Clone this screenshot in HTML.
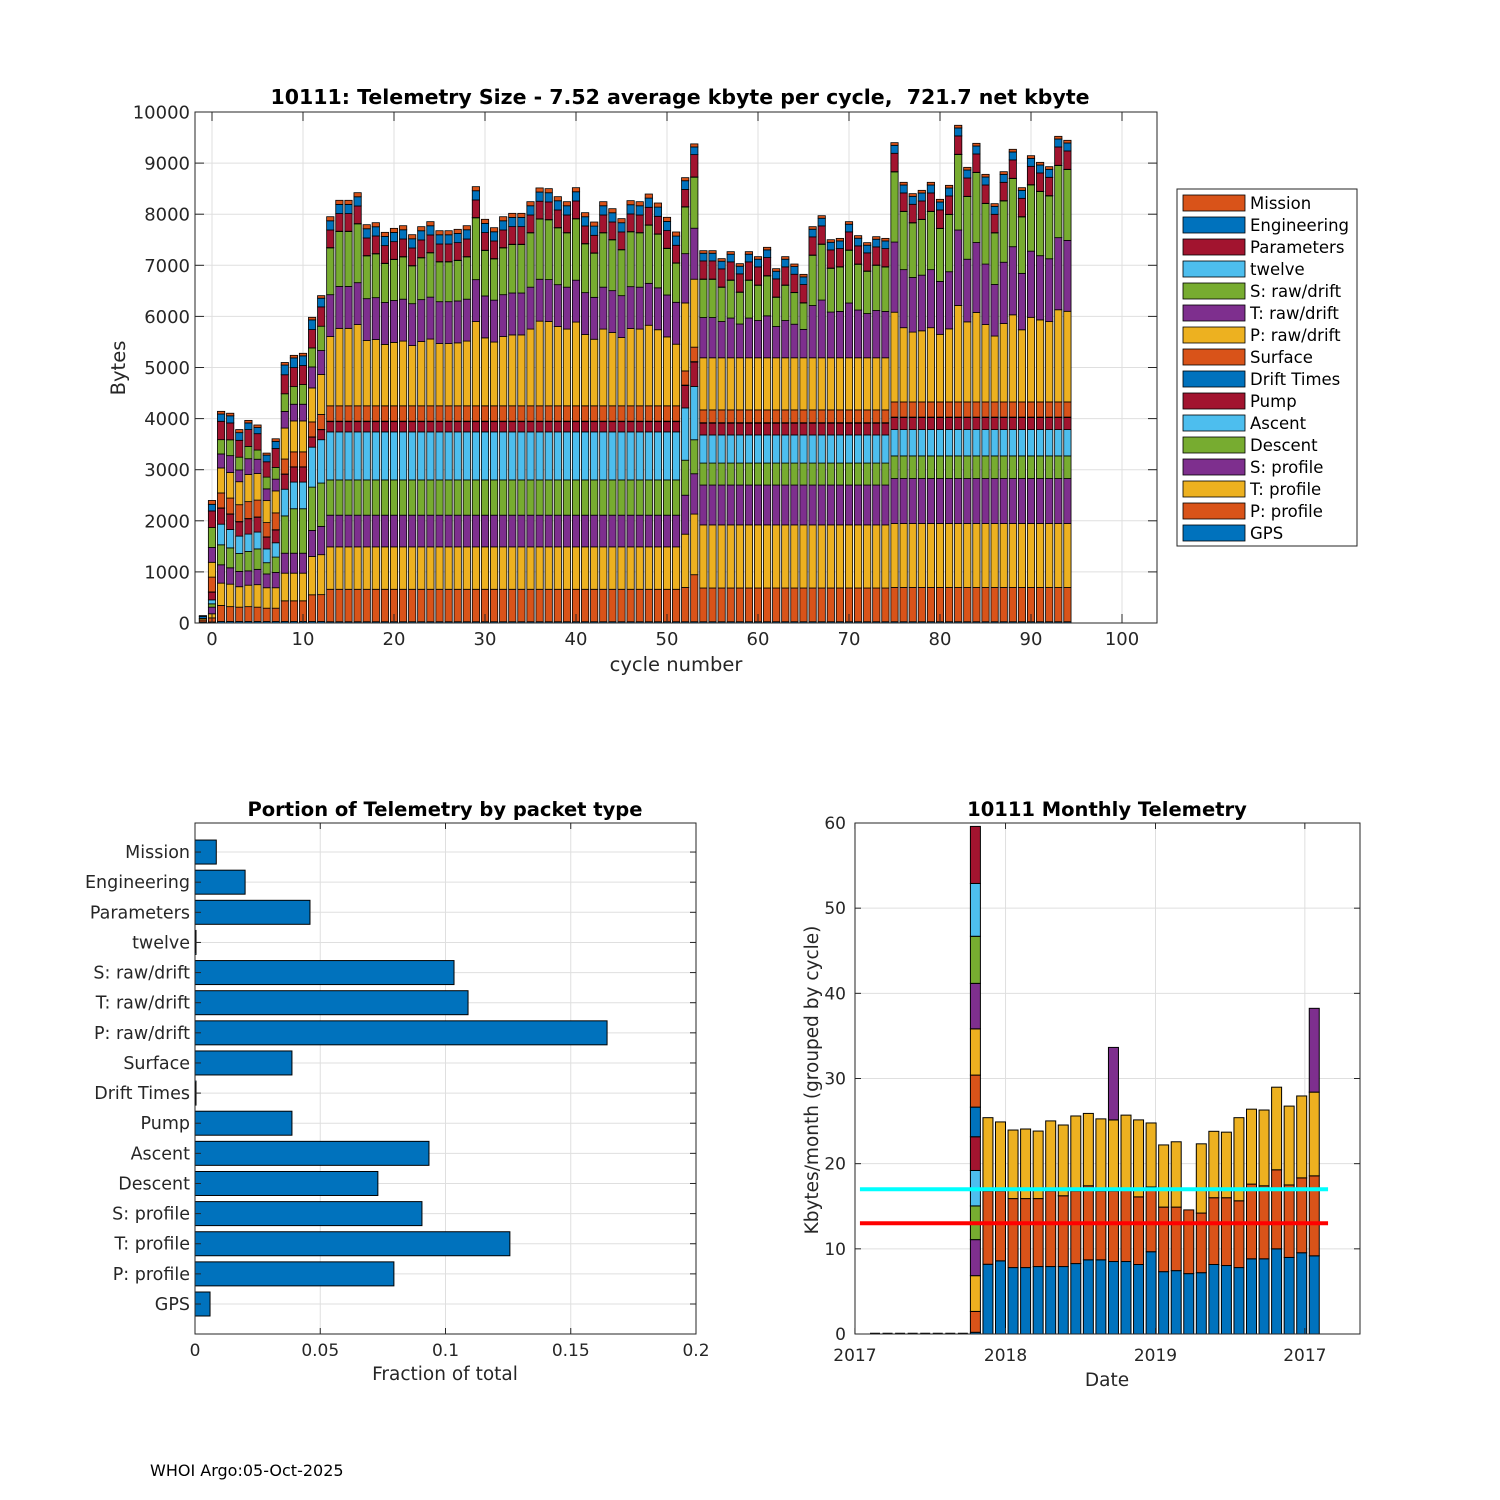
<!DOCTYPE html>
<html><head><meta charset="utf-8">
<style>
html,body{margin:0;padding:0;background:#fff;}
svg{display:block;font-family:"DejaVu Sans","Liberation Sans",sans-serif;}
</style></head>
<body>
<svg id="fig" width="1500" height="1500" viewBox="0 0 1500 1500" xmlns="http://www.w3.org/2000/svg">
<rect x="0" y="0" width="1500" height="1500" fill="#fff"/>
<g id="top"></g>
<g id="bl"></g>
<g id="br"></g>
<text x="150" y="1476" font-size="16" fill="#000">WHOI Argo:05-Oct-2025</text>
</svg>
<script>
// ===== Top chart data (cycles -1..94) =====
const cycles = [-1,0,1,2,3,4,5,6,7,8,9,10,11,12,13,14,15,16,17,18,19,20,21,22,23,24,25,26,27,28,29,30,31,32,33,34,35,36,37,38,39,40,41,42,43,44,45,46,47,48,49,50,51,52,53,54,55,56,57,58,59,60,61,62,63,64,65,66,67,68,69,70,71,72,73,74,75,76,77,78,79,80,81,82,83,84,85,86,87,88,89,90,91,92,93,94];
const gps = [20,20,
30,30,30,30,30,30,30,30,30,30,30,30,
25,25,25,25,25,25,25,25,25,25,
25,25,25,25,25,25,25,25,25,25,
25,25,25,25,25,25,25,25,25,25,
25,25,25,25,25,25,25,25,25,25,
25,25,25,25,25,25,25,25,25,25,
25,25,25,25,25,25,25,25,25,25,
25,25,25,25,25,25,25,25,25,25,
25,25,25,25,25,25,25,25,25,25,
25,25];
const pProfile = [40,80,313,290,280,290,280,260,260,404,404,404,522,525,
635,635,635,635,635,635,635,635,635,635,635,635,635,635,635,635,635,635,635,635,635,635,635,635,635,635,635,635,635,635,635,635,635,635,635,635,635,635,635,
670,920,
660,660,660,660,660,660,660,660,660,660,660,660,660,660,660,660,660,660,660,660,660,
670,670,670,670,670,670,670,670,670,670,670,670,670,670,670,670,670,670,670,670];
const tProfile = [30,80,437,440,400,420,440,400,400,541,541,541,750,782,
830,830,830,830,830,830,830,830,830,830,830,830,830,830,830,830,830,830,830,830,830,830,830,830,830,830,830,830,830,830,830,830,830,830,830,830,830,830,830,
1043,1187,
1235,1235,1235,1235,1235,1235,1235,1235,1235,1235,1235,1235,1235,1235,1235,1235,1235,1235,1235,1235,1235,
1252,1252,1252,1252,1252,1252,1252,1252,1252,1252,1252,1252,1252,1252,1252,1252,1252,1252,1252,1252];
const sProfile = [0,130,359,320,300,280,300,270,300,391,391,391,509,554,
620,620,620,620,620,620,620,620,620,620,620,620,620,620,620,620,620,620,620,620,620,620,620,620,620,620,620,620,620,620,620,620,620,620,620,620,620,620,620,
763,789,
780,780,780,780,780,780,780,780,780,780,780,780,780,780,780,780,780,780,780,780,780,
880,880,880,880,880,880,880,880,880,880,880,880,880,880,880,880,880,880,880,880];
const descent = [0,65,391,390,350,380,400,220,300,730,870,870,848,848,
690,690,690,690,690,690,690,690,690,690,690,690,690,690,690,690,690,690,690,690,690,690,690,690,690,690,690,690,690,690,690,690,690,690,690,690,690,690,690,
685,665,
430,430,430,430,430,430,430,430,430,430,430,430,430,430,430,430,430,430,430,430,430,
443,443,443,443,443,443,443,443,443,443,443,443,443,443,443,443,443,443,443,443];
const ascent = [0,78,404,360,340,340,330,270,280,522,522,522,782,848,
940,940,940,940,940,940,940,940,940,940,940,940,940,940,940,940,940,940,940,940,940,940,940,940,940,940,940,940,940,940,940,940,940,940,940,940,940,940,940,
1023,1043,
550,550,550,550,550,550,550,550,550,550,550,550,550,550,550,550,550,550,550,550,550,
515,515,515,515,515,515,515,515,515,515,515,515,515,515,515,515,515,515,515,515];
const pump = [0,150,313,300,280,300,290,230,250,293,293,293,196,196,
200,200,200,200,200,200,200,200,200,200,200,200,200,200,200,200,200,200,200,200,200,200,200,200,200,200,200,200,200,200,200,200,200,200,200,200,200,200,200,
437,476,
230,230,230,230,230,230,230,230,230,230,230,230,230,230,230,230,230,230,230,230,230,
235,235,235,235,235,235,235,235,235,235,235,235,235,235,235,235,235,235,235,235];
const driftTimes = [0,5,5,5,5,5,5,5,5,5,5,5,5,5,
10,10,10,10,10,10,10,10,10,10,10,10,10,10,10,10,10,10,10,10,10,10,10,10,10,10,10,10,10,10,10,10,10,10,10,10,10,10,10,
10,10,
10,10,10,10,10,10,10,10,10,10,10,10,10,10,10,10,10,10,10,10,10,
10,10,10,10,10,10,10,10,10,10,10,10,10,10,10,10,10,10,10,10];
const surface = [0,290,293,310,330,330,330,280,330,293,293,293,293,293,
300,300,300,300,300,300,300,300,300,300,300,300,300,300,300,300,300,300,300,300,300,300,300,300,300,300,300,300,300,300,300,300,300,300,300,300,300,300,300,
277,283,
250,250,250,250,250,250,250,250,250,250,250,250,250,250,250,250,250,250,250,250,250,
296,296,296,296,296,296,296,296,296,296,296,296,296,296,296,296,296,296,296,296];
const pRaw = [0,290,489,500,450,530,520,430,430,606,606,606,665,782,
1355,1516,1516,1590,1277,1297,1202,1241,1267,1179,1258,1307,1218,1218,1232,1267,1649,1330,1248,1355,1388,1388,1502,1657,1650,1551,1502,1639,1395,1303,1502,1434,1336,1512,1502,1577,1489,1349,1206,
1330,1330,
1020,1020,1020,1020,1020,1020,1020,1020,1020,1020,1020,1020,1020,1020,1020,1020,1020,1020,1020,1020,1020,
1756,1453,1367,1392,1453,1323,1430,1888,1567,1751,1514,1290,1534,1705,1412,1656,1606,1572,1804,1774];
const tRaw = [0,290,274,330,230,310,280,230,230,326,326,326,411,469,
820,820,820,820,820,820,820,820,820,820,820,820,820,820,820,820,820,820,820,820,820,820,820,820,820,820,820,820,820,820,820,820,820,820,820,820,820,820,820,
965,998,
788,788,710,778,661,778,729,821,612,729,657,556,1023,1130,895,908,1072,935,866,925,908,
1373,1136,1069,1089,1136,1035,1118,1477,1226,1369,1184,1009,1200,1333,1104,1295,1256,1230,1411,1387];
const sRaw = [0,390,280,310,250,240,180,230,230,345,345,385,372,476,
916,1076,1076,1151,838,857,763,802,828,740,818,867,779,779,792,828,1210,890,808,916,949,949,1063,1177,1170,1112,1063,1200,955,864,1063,994,897,1073,1063,1138,1050,910,766,
913,998,
748,748,670,739,621,739,690,781,572,690,618,517,983,1091,856,869,1032,895,827,885,869,
1373,1137,1068,1088,1137,1035,1119,1477,1226,1369,1184,1009,1200,1334,1105,1296,1255,1230,1411,1387];
const twelve = [0,0,
0,0,0,0,0,0,0,0,0,0,0,0,
5,5,5,5,5,5,5,5,5,5,
5,5,5,5,5,5,5,5,5,5,
5,5,5,5,5,5,5,5,5,5,
5,5,5,5,5,5,5,5,5,5,
5,5,5,5,5,5,5,5,5,5,
5,5,5,5,5,5,5,5,5,5,
5,5,5,5,5,5,5,5,5,5,
5,5,5,5,5,5,5,5,5,5,
5,5];
const parameters = [0,325,359,330,330,330,320,300,370,372,372,372,359,378,
345,345,345,345,345,345,345,345,345,345,345,345,345,345,345,345,345,345,345,345,345,345,345,345,345,345,345,345,345,345,345,345,345,345,345,345,345,345,345,
339,437,
355,355,355,355,355,355,355,355,355,355,355,355,355,355,355,355,355,355,355,355,355,
359,359,359,359,359,359,359,359,359,359,359,359,359,359,359,359,359,359,359,359];
const engineering = [40,130,143,140,150,130,120,130,140,190,190,190,190,170,
180,180,180,180,180,180,180,180,180,180,180,180,180,180,180,180,180,180,180,180,180,180,180,180,180,180,180,180,180,180,180,180,180,180,180,180,180,180,180,
170,150,
150,150,150,150,150,150,150,150,150,150,150,150,150,150,150,150,150,150,150,150,150,
156,156,156,156,156,156,156,156,156,156,156,156,156,156,156,156,156,156,156,156];
const mission = [15,75,52,50,60,50,50,40,50,50,50,50,50,50,
80,80,80,80,80,80,80,80,80,80,80,80,80,80,80,80,80,80,80,80,80,80,80,80,80,80,80,80,80,80,80,80,80,80,80,80,80,80,80,
60,60,
50,50,50,50,50,50,50,50,50,50,50,50,50,50,50,50,50,50,50,50,50,
52,52,52,52,52,52,52,52,52,52,52,52,52,52,52,52,52,52,52,52];
const topXTicks = [0,10,20,30,40,50,60,70,80,90,100];
const topYTicks = [0,1000,2000,3000,4000,5000,6000,7000,8000,9000,10000];
const legendNames = ['GPS','P: profile','T: profile','S: profile','Descent','Ascent','Pump','Drift Times','Surface','P: raw/drift','T: raw/drift','S: raw/drift','twelve','Parameters','Engineering','Mission'];

// ===== Portion chart data =====
const portionNames = ['GPS','P: profile','T: profile','S: profile','Descent','Ascent','Pump','Drift Times','Surface','P: raw/drift','T: raw/drift','S: raw/drift','twelve','Parameters','Engineering','Mission'];
const portionValues = [0.006,0.0794,0.1257,0.0906,0.073,0.0934,0.0387,0.0004,0.0387,0.1645,0.109,0.1034,0.0004,0.0459,0.02,0.0085];
const portionXTicks = [0,0.05,0.1,0.15,0.2];
const portionXLabels = ['0','0.05','0.1','0.15','0.2'];

// ===== Monthly chart data (month index 0..35) =====
const months = [0,1,2,3,4,5,6,7,8,9,10,11,12,13,14,15,16,17,18,19,20,21,22,23,24,25,26,27,28,29,30,31,32,33,34,35];
const m1 = [0,0,0,0,0,0,0,0,0.2,8.19,8.59,7.8,7.8,7.92,7.92,7.92,8.27,8.71,8.71,8.51,8.51,8.16,9.66,7.32,7.44,7.09,7.2,8.16,8.04,7.8,8.83,8.83,10.0,8.99,9.54,9.18];
const m2 = [0,0,0,0,0,0,0,0,2.45,8.61,8.21,8.1,8.1,7.98,8.88,8.31,8.53,8.69,8.09,8.29,8.59,7.94,7.6,7.58,7.46,7.48,7.0,7.84,7.96,7.84,8.77,8.57,9.28,8.51,8.79,9.39];
const m3 = [0,0,0,0,0,0,0,0,4.2,8.6,8.1,8.05,8.17,7.93,8.22,8.31,8.8,8.5,8.46,8.34,8.6,9.04,7.52,7.3,7.67,0,8.13,7.8,7.7,9.76,8.8,8.9,9.7,9.26,9.62,9.83];
const m4 = [0,0,0,0,0,0,0,0,4.23,0,0,0,0,0,0,0,0,0,0,8.51,0,0,0,0,0,0,0,0,0,0,0,0,0,0,0,9.84];
const m5 = [0,0,0,0,0,0,0,0,3.96,0,0,0,0,0,0,0,0,0,0,0,0,0,0,0,0,0,0,0,0,0,0,0,0,0,0,0];
const m6 = [0,0,0,0,0,0,0,0,4.16,0,0,0,0,0,0,0,0,0,0,0,0,0,0,0,0,0,0,0,0,0,0,0,0,0,0,0];
const m7 = [0,0,0,0,0,0,0,0,3.96,0,0,0,0,0,0,0,0,0,0,0,0,0,0,0,0,0,0,0,0,0,0,0,0,0,0,0];
const m8 = [0,0,0,0,0,0,0,0,3.48,0,0,0,0,0,0,0,0,0,0,0,0,0,0,0,0,0,0,0,0,0,0,0,0,0,0,0];
const m9 = [0,0,0,0,0,0,0,0,3.76,0,0,0,0,0,0,0,0,0,0,0,0,0,0,0,0,0,0,0,0,0,0,0,0,0,0,0];
const m10 = [0,0,0,0,0,0,0,0,5.43,0,0,0,0,0,0,0,0,0,0,0,0,0,0,0,0,0,0,0,0,0,0,0,0,0,0,0];
const m11 = [0,0,0,0,0,0,0,0,5.34,0,0,0,0,0,0,0,0,0,0,0,0,0,0,0,0,0,0,0,0,0,0,0,0,0,0,0];
const m12 = [0,0,0,0,0,0,0,0,5.53,0,0,0,0,0,0,0,0,0,0,0,0,0,0,0,0,0,0,0,0,0,0,0,0,0,0,0];
const m13 = [0,0,0,0,0,0,0,0,6.2,0,0,0,0,0,0,0,0,0,0,0,0,0,0,0,0,0,0,0,0,0,0,0,0,0,0,0];
const m14 = [0,0,0,0,0,0,0,0,6.7,0,0,0,0,0,0,0,0,0,0,0,0,0,0,0,0,0,0,0,0,0,0,0,0,0,0,0];
const monthYTicks = [0,10,20,30,40,50,60];
const monthXTicks = [-1.6,10.4,22.35,34.25];
const monthXLabels = ['2017','2018','2019','2017'];
const cyanLevel = 17.0;
const redLevel = 13.0;
const refLineStart = -1.2;
const refLineEnd = 36.1;

// ===== drawing =====
const NS = 'http://www.w3.org/2000/svg';
const C = ['#0072BD','#D95319','#EDB120','#7E2F8E','#77AC30','#4DBEEE','#A2142F'];
function mk(parent, tag, attrs, text) {
  const e = document.createElementNS(NS, tag);
  for (const k in attrs) e.setAttribute(k, attrs[k]);
  if (text !== undefined) e.textContent = text;
  parent.appendChild(e);
  return e;
}
const GRID = '#dfdfdf', AX = '#262626';

// ---------- TOP ----------
(function(){
  const g = document.getElementById('top');
  const L=195,R=1157,T=112,B=623;
  const xs = c => 212 + 9.1*c;
  const ys = v => B - v*(B-T)/10000;
  topXTicks.forEach(t=>{
    const l = mk(g,'line',{x1:xs(t),x2:xs(t),y1:T,y2:B,stroke:GRID,'stroke-width':1});
    
    
  });
  topYTicks.forEach(t=>{
    const l = mk(g,'line',{x1:L,x2:R,y1:ys(t),y2:ys(t),stroke:GRID,'stroke-width':1});
    
    
  });
  const series = [gps,pProfile,tProfile,sProfile,descent,ascent,pump,driftTimes,surface,pRaw,tRaw,sRaw,twelve,parameters,engineering,mission];
  const bw = 7.3;
  cycles.forEach((c,i)=>{
    let acc = 0;
    series.forEach((s,k)=>{
      const v = s[i] || 0;
      if (v<=0) return;
      const y0 = ys(acc), y1 = ys(acc+v);
      const r = mk(g,'rect',{x:xs(c)-bw/2,y:y1,width:bw,height:y0-y1,fill:C[k%7],stroke:'#000','stroke-width':0.8});
      
      
      acc += v;
    });
  });
  mk(g,'rect',{x:L,y:T,width:R-L,height:B-T,fill:'none',stroke:AX,'stroke-width':1});
  topXTicks.forEach(t=>{
    mk(g,'line',{x1:xs(t),x2:xs(t),y1:B,y2:B-9,stroke:AX});
    mk(g,'line',{x1:xs(t),x2:xs(t),y1:T,y2:T+9,stroke:AX});
    const tx = mk(g,'text',{x:xs(t),y:645,'font-size':18,'text-anchor':'middle',fill:AX},String(t));
    
    
  });
  topYTicks.forEach(t=>{
    mk(g,'line',{x1:L,x2:L+9,y1:ys(t),y2:ys(t),stroke:AX});
    mk(g,'line',{x1:R,x2:R-9,y1:ys(t),y2:ys(t),stroke:AX});
    const tx = mk(g,'text',{x:190,y:ys(t)+6.5,'font-size':18,'text-anchor':'end',fill:AX},String(t));
    
    
  });
  const ti = mk(g,'text',{x:680,y:104,'font-size':20.5,'font-weight':'bold','text-anchor':'middle',fill:'#000',style:'white-space:pre'},'10111: Telemetry Size - 7.52 average kbyte per cycle,  721.7 net kbyte');
  
  
  const xl = mk(g,'text',{x:676,y:671,'font-size':19.5,'text-anchor':'middle',fill:AX},'cycle number');
  
  
  const yl = mk(g,'text',{x:0,y:0,'font-size':19.5,'text-anchor':'middle',fill:AX,transform:'translate(125,368) rotate(-90)'},'Bytes');
  
  
  // legend
  const lg = mk(g,'g',{});
  
  
  mk(lg,'rect',{x:1177,y:189,width:180,height:357,fill:'#fff',stroke:AX,'stroke-width':1});
  for (let j=0;j<16;j++){
    const k = 15-j;
    const cy = 203 + 22*j;
    const e = mk(lg,'g',{});
    
    
    mk(e,'rect',{x:1183,y:cy-8,width:62,height:16,fill:C[k%7],stroke:'#000','stroke-width':0.8});
    mk(e,'text',{x:1250,y:cy+6,'font-size':16.5,fill:'#000'},legendNames[k]);
  }
})();

// ---------- BOTTOM LEFT ----------
(function(){
  const g = document.getElementById('bl');
  const L=195,R=696,T=823,B=1334;
  const xs = v => L + v*(R-L)/0.2;
  const ys = i => 1304 - i*30.13;
  portionXTicks.forEach(t=>{
    mk(g,'line',{x1:xs(t),x2:xs(t),y1:T,y2:B,stroke:GRID});
  });
  portionNames.forEach((n,i)=>{
    mk(g,'line',{x1:L,x2:R,y1:ys(i),y2:ys(i),stroke:GRID});
  });
  portionNames.forEach((n,i)=>{
    const r = mk(g,'rect',{x:xs(0),y:ys(i)-12,width:xs(portionValues[i])-xs(0),height:24,fill:'#0072BD',stroke:'#000','stroke-width':1});
    
    
    const tx = mk(g,'text',{x:190,y:ys(i)+6,'font-size':17.5,'text-anchor':'end',fill:AX},n);
    
    
    mk(g,'line',{x1:L,x2:L+6,y1:ys(i),y2:ys(i),stroke:AX});
    mk(g,'line',{x1:R,x2:R-6,y1:ys(i),y2:ys(i),stroke:AX});
  });
  mk(g,'rect',{x:L,y:T,width:R-L,height:B-T,fill:'none',stroke:AX});
  portionXTicks.forEach((t,i)=>{
    mk(g,'line',{x1:xs(t),x2:xs(t),y1:B,y2:B-6,stroke:AX});
    mk(g,'line',{x1:xs(t),x2:xs(t),y1:T,y2:T+6,stroke:AX});
    const tx = mk(g,'text',{x:xs(t),y:1356,'font-size':17,'text-anchor':'middle',fill:AX},portionXLabels[i]);
    
    
  });
  const ti = mk(g,'text',{x:445,y:816,'font-size':19.5,'font-weight':'bold','text-anchor':'middle',fill:'#000'},'Portion of Telemetry by packet type');
  
  
  const xl = mk(g,'text',{x:445,y:1380,'font-size':18.5,'text-anchor':'middle',fill:AX},'Fraction of total');
  
  
})();

// ---------- BOTTOM RIGHT ----------
(function(){
  const g = document.getElementById('br');
  const L=855,R=1360,T=823,B=1334;
  const xs = m => 875 + 12.55*m;
  const ys = v => B - v*(B-T)/60;
  monthXTicks.forEach(t=>{ mk(g,'line',{x1:xs(t),x2:xs(t),y1:T,y2:B,stroke:GRID}); });
  monthYTicks.forEach(t=>{ mk(g,'line',{x1:L,x2:R,y1:ys(t),y2:ys(t),stroke:GRID}); });
  const series = [m1,m2,m3,m4,m5,m6,m7,m8,m9,m10,m11,m12,m13,m14];
  const bw = 10;
  months.forEach((m,i)=>{
    let acc = 0, drawn = false;
    series.forEach((s,k)=>{
      const v = s[i] || 0;
      if (v<=0) return;
      drawn = true;
      const y0=ys(acc), y1=ys(acc+v);
      const r = mk(g,'rect',{x:xs(m)-bw/2,y:y1,width:bw,height:y0-y1,fill:C[k%7],stroke:'#000','stroke-width':1});
      
      
      acc += v;
    });
    if (!drawn) {
      const z = mk(g,'line',{x1:xs(m)-bw/2,x2:xs(m)+bw/2,y1:ys(0)-0.5,y2:ys(0)-0.5,stroke:'#000','stroke-width':1.5});
      
      
    }
  });
  const cl = mk(g,'line',{x1:xs(refLineStart),x2:xs(refLineEnd),y1:ys(cyanLevel),y2:ys(cyanLevel),stroke:'#00FFFF','stroke-width':4});
  
  
  const rl = mk(g,'line',{x1:xs(refLineStart),x2:xs(refLineEnd),y1:ys(redLevel),y2:ys(redLevel),stroke:'#FF0000','stroke-width':4});
  
  
  mk(g,'rect',{x:L,y:T,width:R-L,height:B-T,fill:'none',stroke:AX});
  monthYTicks.forEach(t=>{
    mk(g,'line',{x1:L,x2:L+6,y1:ys(t),y2:ys(t),stroke:AX});
    mk(g,'line',{x1:R,x2:R-6,y1:ys(t),y2:ys(t),stroke:AX});
    const tx = mk(g,'text',{x:846,y:ys(t)+6,'font-size':17,'text-anchor':'end',fill:AX},String(t));
    
    
  });
  monthXTicks.forEach((t,i)=>{
    mk(g,'line',{x1:xs(t),x2:xs(t),y1:B,y2:B-6,stroke:AX});
    mk(g,'line',{x1:xs(t),x2:xs(t),y1:T,y2:T+6,stroke:AX});
    const tx = mk(g,'text',{x:xs(t),y:1361,'font-size':17,'text-anchor':'middle',fill:AX},monthXLabels[i]);
    
    
  });
  const ti = mk(g,'text',{x:1107,y:816,'font-size':19.5,'font-weight':'bold','text-anchor':'middle',fill:'#000'},'10111 Monthly Telemetry');
  
  
  const xl = mk(g,'text',{x:1107,y:1386,'font-size':18.5,'text-anchor':'middle',fill:AX},'Date');
  
  
  const yl = mk(g,'text',{x:0,y:0,'font-size':18.5,'text-anchor':'middle',fill:AX,transform:'translate(818,1080) rotate(-90)'},'Kbytes/month (grouped by cycle)');
  
  
})();
</script>
</body></html>
